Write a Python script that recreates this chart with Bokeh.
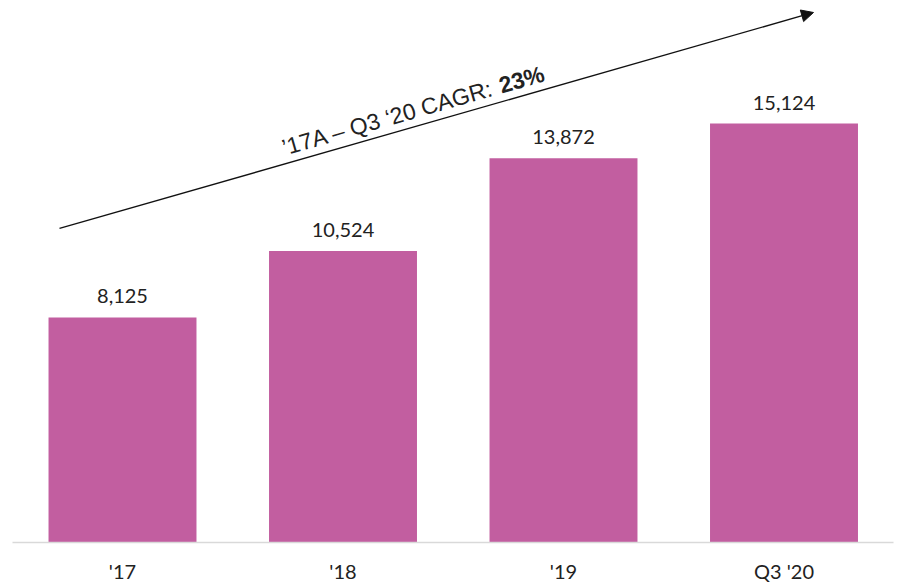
from bokeh.plotting import figure
from bokeh.models import ColumnDataSource, Range1d, FixedTicker, LabelSet, Arrow, NormalHead, Label
from bokeh.core.properties import value
from bokeh.embed import file_html
from bokeh.resources import INLINE

# ---- data ----
categories = ["'17", "'18", "'19", "Q3 '20"]
values = [8125, 10524, 13872, 15124]
value_labels = ["8,125", "10,524", "13,872", "15,124"]
cagr_text = "\u201917A \u2013 Q3 \u201820 CAGR: "
cagr_value = "23%"

# ---- style ----
BAR_COLOR = "#C25EA0"
TEXT_COLOR = "#222222"
xs = list(range(len(categories)))

source = ColumnDataSource(dict(x=xs, top=values, label=value_labels))

p = figure(width=899, height=585,
           x_range=Range1d(-0.4989, 3.4966), y_range=Range1d(0, 19567),
           output_backend="svg", toolbar_location=None,
           y_axis_location=None,
           min_border_left=12, min_border_right=6,
           min_border_top=0, min_border_bottom=0)

p.vbar(x="x", top="top", width=0.671, source=source,
       fill_color=BAR_COLOR, line_color=None)

labels = LabelSet(x="x", y="top", text="label", source=source,
                  text_align="center", text_baseline="alphabetic",
                  y_offset=14, text_font=value("Lato"), text_font_size="20px",
                  text_color=TEXT_COLOR)
p.add_layout(labels)

# x axis
p.xaxis.ticker = FixedTicker(ticks=xs)
p.xaxis.major_label_overrides = {i: c for i, c in zip(xs, categories)}
p.xaxis.axis_line_color = "#D9D9D9"
p.xaxis.axis_line_width = 1.5
p.xaxis.major_tick_line_color = None
p.xaxis.minor_tick_line_color = None
p.xaxis.major_tick_out = 0
p.xaxis.major_tick_in = 0
p.xaxis.major_label_standoff = 16
p.xaxis.major_label_text_font = "Lato"
p.xaxis.major_label_text_font_size = "20px"
p.xaxis.major_label_text_color = TEXT_COLOR

p.xgrid.visible = False
p.ygrid.visible = False
p.outline_line_color = None
p.background_fill_color = "white"
p.border_fill_color = "white"

# CAGR arrow
ARROW_START = (-0.2857, 11336)
ARROW_END = (3.1338, 19134)
arrow = Arrow(x_start=ARROW_START[0], y_start=ARROW_START[1],
              x_end=ARROW_END[0], y_end=ARROW_END[1],
              line_color="#111111", line_width=1.3,
              end=NormalHead(size=12, fill_color="#111111", line_color="#111111"))
p.add_layout(arrow)

ANGLE = 0.2793
p.add_layout(Label(x=0.7256, y=14242, text=cagr_text, angle=ANGLE,
                   text_font="Liberation Sans", text_font_size="23px",
                   text_color=TEXT_COLOR, text_align="left",
                   text_baseline="alphabetic"))
p.add_layout(Label(x=1.7098, y=16487, text=cagr_value, angle=ANGLE,
                   text_font="Liberation Sans", text_font_size="23px",
                   text_font_style="bold",
                   text_color=TEXT_COLOR, text_align="left",
                   text_baseline="alphabetic"))

open("out.html", "w").write(file_html(p, INLINE))
